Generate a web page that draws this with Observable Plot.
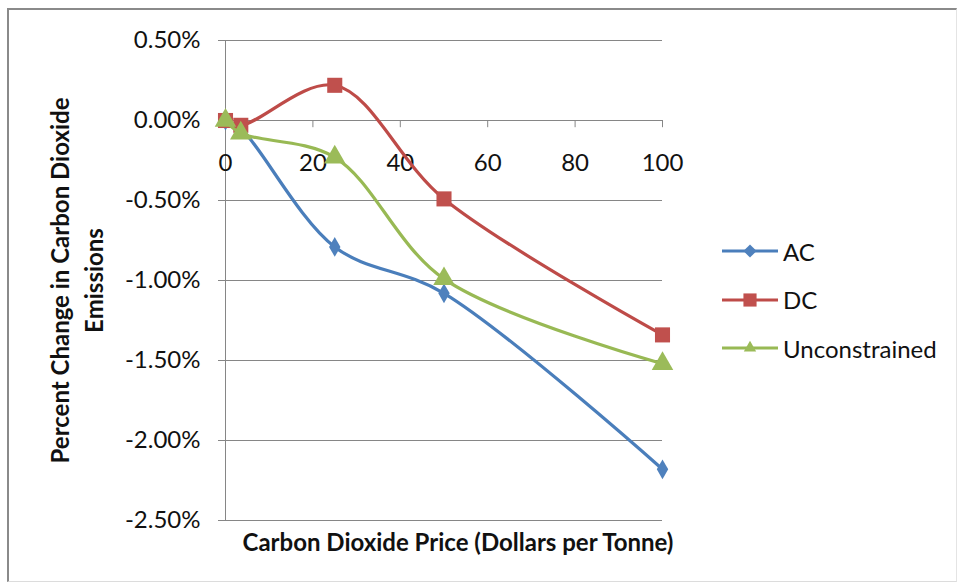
<!DOCTYPE html>
<html>
<head>
<meta charset="utf-8">
<script src="https://cdn.jsdelivr.net/npm/d3@7"></script>
<script src="https://cdn.jsdelivr.net/npm/@observablehq/plot@0.6"></script>
<style>
  body { margin: 0; background: #fff; font-family: Lato, sans-serif; }
  #wrap { position: relative; width: 960px; height: 588px; overflow: hidden; }
  #frame { position: absolute; left: 7px; top: 8px; width: 950px; height: 574px;
           border-top: 2px solid #8a8a8a; border-left: 2px solid #8a8a8a;
           border-bottom: 1px solid #dcdcdc; border-right: 1px solid #e4e4e4; box-sizing: border-box; }
  #chart { position: absolute; left: 0; top: 0; }
  #legend { position: absolute; left: 722px; top: 227px; font-size: 24px; color: #111; }
  #legend .row { display: flex; align-items: center; height: 48.5px; }
  #legend svg { margin-right: 5px; }
</style>
</head>
<body>
<div id="wrap">
  <div id="frame"></div>
  <div id="chart"></div>
  <div id="legend"></div>
</div>
<script>
// carbon price (dollars per tonne)
const prices = [0, 3.5, 25, 50, 100];
// percent change in CO2 emissions
const ac = [0, -0.05, -0.79, -1.08, -2.18];
const dc = [0, -0.03, 0.22, -0.49, -1.34];
const unconstrained = [0, -0.08, -0.23, -0.99, -1.52];

const seriesNames = ['AC', 'DC', 'Unconstrained'];
const lineColors = ['#4a7ebb', '#be4b48', '#98b954'];
const markColors = ['#4f81bd', '#c0504d', '#9bbb59'];
const symbols = ['diamond', 'square', 'triangle'];
const markR = [6, 8.5, 8];

const yTicks = [0.5, 0, -0.5, -1, -1.5, -2, -2.5];
const xTicks = [0, 20, 40, 60, 80, 100];

const series = [ac, dc, unconstrained].map((vals, i) =>
  prices.map((p, j) => ({ price: p, pct: vals[j], name: seriesNames[i] })));

const seriesMarks = series.flatMap((rows, i) => [
  Plot.line(rows, { x: 'price', y: 'pct', curve: 'catmull-rom', stroke: lineColors[i], strokeWidth: 3.2 }),
  Plot.dot(rows, { x: 'price', y: 'pct', symbol: symbols[i], r: markR[i], fill: markColors[i], stroke: 'none' })
]);

let chart = Plot.plot({
  width: 960,
  height: 588,
  marginLeft: 225,
  marginRight: 298,
  marginTop: 40,
  marginBottom: 68,
  x: { domain: [0, 100], axis: null },
  y: { domain: [-2.5, 0.5], axis: null },
  style: { fontFamily: 'Lato, sans-serif', fontSize: 24, background: 'transparent', color: '#111' },
  marks: [
    Plot.ruleY(yTicks, { stroke: '#868686', strokeWidth: 1 }),
    Plot.ruleX([0], { stroke: '#868686', strokeWidth: 1 }),
    Plot.axisY({
      ticks: yTicks, tickSize: 7, stroke: '#868686', tickPadding: 18,
      tickFormat: d => d.toFixed(2) + '%', fontSize: 24, fill: '#111', label: null
    }),
    Plot.ruleX(xTicks, { y1: 0, y2: -0.045, stroke: '#868686' }),
    Plot.text(xTicks, { x: d => d, y: 0, dy: 43, text: d => String(d), fontSize: 24, fill: '#111' }),
    Plot.text(['Percent Change in Carbon Dioxide\nEmissions'], {
      frameAnchor: 'left', rotate: -90, dx: -150, textAnchor: 'middle', lineAnchor: 'middle',
      fontWeight: 'bold', fontSize: 24, lineHeight: 1.42, fill: '#111'
    }),
    Plot.text(['Carbon Dioxide Price (Dollars per Tonne)'], {
      frameAnchor: 'bottom', dx: 14, dy: 30, fontWeight: 'bold', fontSize: 24, fill: '#111'
    }),
    ...seriesMarks
  ]
});
d3.select('#chart').append(() => chart);

// legend
const legend = d3.select('#legend');
seriesNames.forEach((name, i) => {
  const row = legend.append('div').attr('class', 'row');
  const svg = row.append('svg').attr('width', 56).attr('height', 20);
  svg.append('line').attr('x1', 0).attr('x2', 56).attr('y1', 10).attr('y2', 10)
    .attr('stroke', lineColors[i]).attr('stroke-width', 3.2);
  const sym = { diamond: d3.symbolDiamond2, square: d3.symbolSquare2, triangle: d3.symbolTriangle2 }[symbols[i]];
  svg.append('path').attr('transform', 'translate(28,10)')
    .attr('d', d3.symbol(sym, i === 1 ? 220 : 110)())
    .attr('fill', markColors[i]);
  row.append('span').text(name);
});
</script>
</body>
</html>
